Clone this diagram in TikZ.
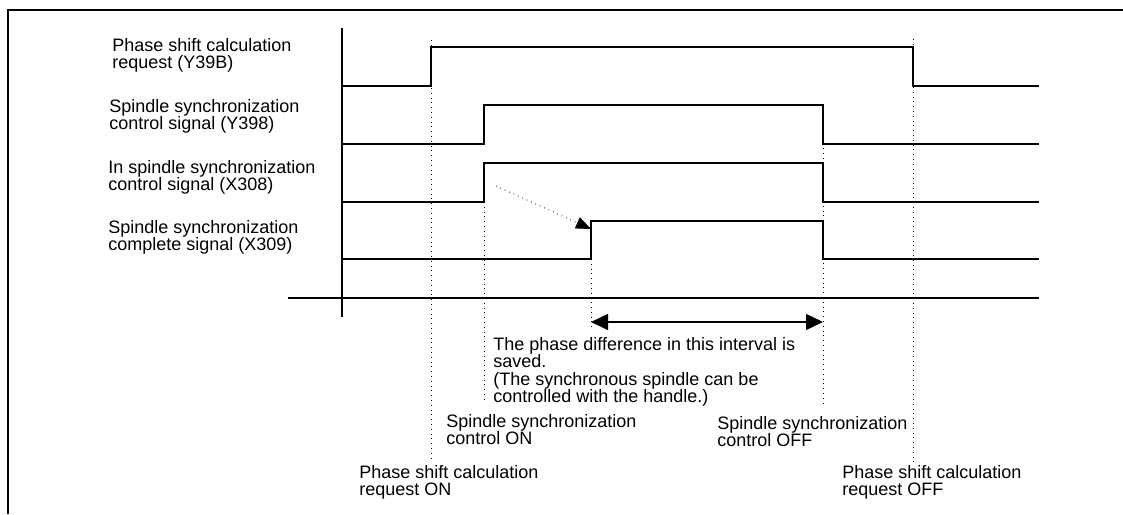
\documentclass[tikz,border=0pt]{standalone}
\usepackage{fontspec}
\setmainfont{Liberation Sans}
\usetikzlibrary{arrows.meta}
\begin{document}
\begin{tikzpicture}[x=0.5pt,y=-0.5pt,
  frame/.style={line width=1.2pt},
  axis/.style={line width=0.65pt},
  sig/.style={line width=0.65pt, line join=miter},
  guide/.style={line width=0.4pt, dotted},
  lbl/.style={anchor=north west, inner sep=0pt, align=left, font=\fontsize{9pt}{8.65pt}\selectfont},
]
\useasboundingbox (0,0) rectangle (1123,514);
% frame
\draw[frame] (8,514) -- (8,10) -- (1123,10);
% axes
\draw[axis] (342,28) -- (342,317);
\draw[axis] (288,298) -- (1039,298);
% dotted guide lines
\draw[guide] (431,40) -- (431,460);
\draw[guide] (484,202) -- (484,403);
\draw[guide] (591,259) -- (591,327);
\draw[guide] (823,105) -- (823,405);
\draw[guide] (913,39) -- (913,462);
% signals
\draw[sig] (342,86) -- (431,86) -- (431,47) -- (913,47) -- (913,86) -- (1039,86);
\draw[sig] (342,144) -- (484,144) -- (484,105) -- (823,105) -- (823,144) -- (1039,144);
\draw[sig] (342,202) -- (484,202) -- (484,163) -- (823,163) -- (823,202) -- (1039,202);
\draw[sig] (342,259) -- (591,259) -- (591,221) -- (823,221) -- (823,259) -- (1039,259);
% dotted causal arrow
\coordinate (cs) at (496,186);
\coordinate (ce) at (591,229);
\draw[guide, -{Triangle[length=7.5pt,width=6pt]}] (cs) -- (ce);
% interval arrow
\coordinate (ia) at (591,322);
\coordinate (ib) at (823,322);
\draw[line width=0.65pt, {Triangle[length=8.5pt,width=8pt]}-{Triangle[length=8.5pt,width=8pt]}] (ia) -- (ib);
% labels
\node[lbl] (l1) at (112,38) {Phase shift calculation\\request (Y39B)};
\node[lbl] (l2) at (109,99) {Spindle synchronization\\control signal (Y398)};
\node[lbl] (l3) at (108,160) {In spindle synchronization\\control signal (X308)};
\node[lbl] (l4) at (108,220) {Spindle synchronization\\complete signal (X309)};
\node[lbl] (t1) at (493,337) {The phase difference in this interval is\\saved.\\(The synchronous spindle can be\\controlled with the handle.)};
\node[lbl] (t2) at (446,414) {Spindle synchronization\\control ON};
\node[lbl] (t3) at (717,416) {Spindle synchronization\\control OFF};
\node[lbl] (t4) at (359,465) {Phase shift calculation\\request ON};
\node[lbl] (t5) at (842,465) {Phase shift calculation\\request OFF};
\end{tikzpicture}
\end{document}
